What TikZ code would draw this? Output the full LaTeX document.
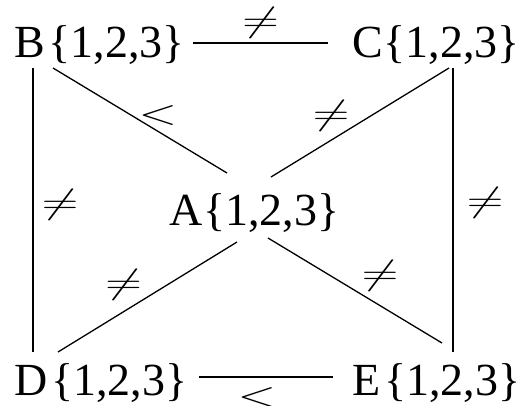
\RequirePackage{fix-cm}
\documentclass[tikz,border=0pt]{standalone}
\usepackage{graphicx}
\usepackage{fontspec}
\setmainfont{Liberation Serif}
\usetikzlibrary{positioning}

\newcommand{\neqlbl}{\scalebox{1.1}[0.75]{$\neq$}}
\newcommand{\ltlbl}{\scalebox{1.1}[0.78]{$<$}}

\begin{document}
\begin{tikzpicture}[
    x=1bp, y=-1bp,
    var/.style={inner sep=0pt, anchor=base west, font=\fontsize{46bp}{55bp}\selectfont},
    lbl/.style={inner sep=0pt, font=\fontsize{46bp}{55bp}\selectfont},
    link/.style={line width=1.3bp}
]
\useasboundingbox (0,0) rectangle (530,405);

\node[var] (B) at (14,57) {B\kern4bp\{1,2,3\}};
\node[var] (C) at (352,57) {C\kern1bp\{1,2,3\}};
\node[var] (A) at (169,225) {A\kern1bp\{1,2,3\}};
\node[var] (D) at (14,395) {D\kern4bp\{1,2,3\}};
\node[var] (E) at (352,395) {E\kern4bp\{1,2,3\}};

% top and bottom
\draw[link] ([xshift=8bp,yshift=14bp]B.base east) -- node[lbl, yshift=20bp] {\neqlbl} ([xshift=-24bp,yshift=14bp]C.base west);
\draw[link] ([xshift=11bp,yshift=18bp]D.base east) -- node[lbl, xshift=-9bp, yshift=-21bp] {\ltlbl} ([xshift=-19bp,yshift=18bp]E.base west);

% sides
\draw[link] ([xshift=19bp,yshift=-11bp]B.base west) -- node[lbl, xshift=27bp, yshift=5bp] {\neqlbl} ([xshift=19bp,yshift=43bp]D.base west);
\draw[link] ([xshift=101bp,yshift=-11bp]C.base west) -- node[lbl, xshift=32bp, yshift=7bp] {\neqlbl} ([xshift=101bp,yshift=43bp]E.base west);

% to A
\draw[link] ([xshift=39bp,yshift=-11bp]B.base west) -- node[lbl, xshift=18bp, yshift=5bp] {\ltlbl} ([xshift=58bp,yshift=52bp]A.base west);
\draw[link] ([xshift=97bp,yshift=-11bp]C.base west) -- node[lbl, xshift=-29bp, yshift=7bp] {\neqlbl} ([xshift=102bp,yshift=48bp]A.base west);
\draw[link] ([xshift=44bp,yshift=43bp]D.base west) -- node[lbl, xshift=-24bp, yshift=12bp] {\neqlbl} ([xshift=68bp,yshift=-17bp]A.base west);
\draw[link] ([xshift=99bp,yshift=-13bp]A.base west) -- node[lbl, xshift=25bp, yshift=15bp] {\neqlbl} ([xshift=90bp,yshift=52bp]E.base west);

\end{tikzpicture}
\end{document}
